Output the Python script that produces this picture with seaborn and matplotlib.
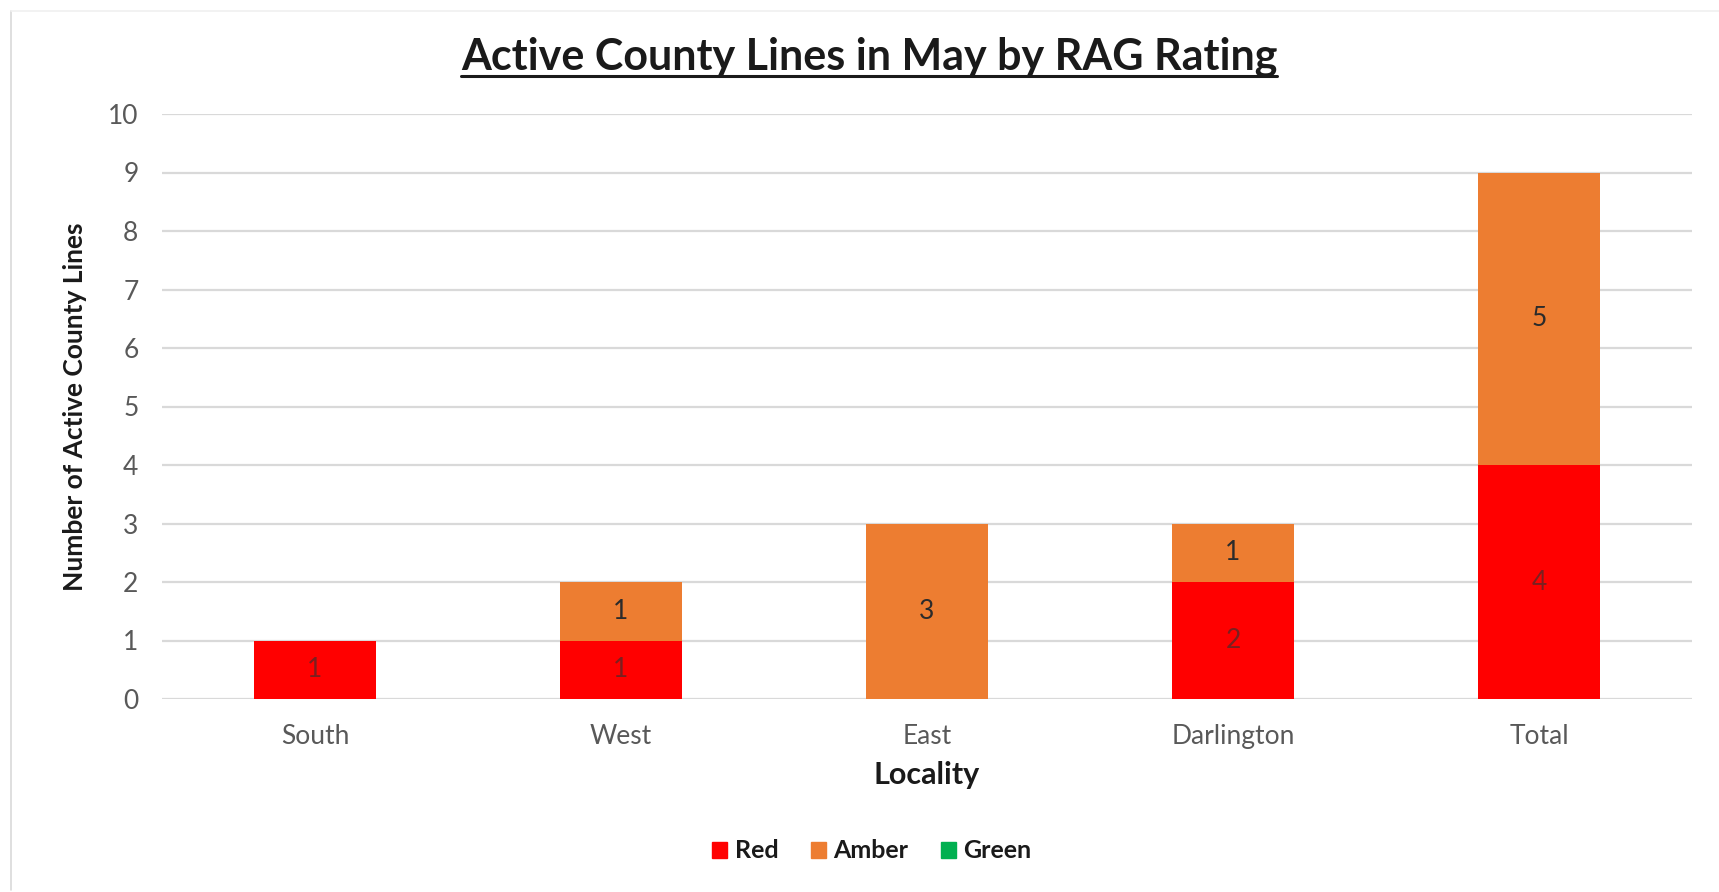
import numpy as np
import pandas as pd
import seaborn as sns
import matplotlib.pyplot as plt
from matplotlib.patches import Patch
from matplotlib.lines import Line2D

localities = ["South", "West", "East", "Darlington", "Total"]
red = [1, 1, 0, 2, 4]
amber = [0, 1, 3, 1, 5]
green = [0, 0, 0, 0, 0]

c_red = "#FF0000"
c_amber = "#ED7D31"
c_green = "#00B050"

df = pd.DataFrame({"Locality": localities, "Red": red, "Amber": amber, "Green": green})
df["RedAmber"] = df["Red"] + df["Amber"]
df["All"] = df["RedAmber"] + df["Green"]

sns.set_theme(style="white")
plt.rcParams["font.family"] = ["Lato", "DejaVu Sans"]

W, H = 1719, 892
fig = plt.figure(figsize=(W / 100, H / 100), dpi=100)
ax = fig.add_axes([162 / W, 1 - 699 / H, (1692 - 162) / W, (699 - 114) / H])

# stacked bars: draw cumulative totals back to front
for col, c in [("All", c_green), ("RedAmber", c_amber), ("Red", c_red)]:
    sns.barplot(data=df, x="Locality", y=col, color=c, width=0.4, saturation=1,
                linewidth=0, edgecolor=c, ax=ax)

# segment labels
for i, (r, a) in enumerate(zip(red, amber)):
    if r:
        ax.text(i, r / 2, str(r), ha="center", va="center", fontsize=19, color="#7a2020")
    if a:
        ax.text(i, r + a / 2, str(a), ha="center", va="center", fontsize=19, color="#2b2b2b")

ax.set_xlim(-0.5, 4.5)
ax.set_ylim(0, 10)
ax.set_yticks(range(0, 11))
ax.yaxis.grid(True, color="#D9D9D9", linewidth=1.6)
ax.set_axisbelow(True)
for s in ax.spines.values():
    s.set_visible(False)
ax.tick_params(axis="both", length=0, labelsize=19, colors="#595959")
ax.tick_params(axis="y", pad=17)
ax.tick_params(axis="x", pad=18)

ax.set_ylabel("Number of Active County Lines", fontsize=19, fontweight="bold", color="#1a1a1a")
ax.yaxis.set_label_coords((75 - 162) / 1530, 0.5)
ax.yaxis.label.set_verticalalignment("center")
ax.set_xlabel("Locality", fontsize=22, fontweight="bold", color="#1a1a1a")
ax.xaxis.set_label_coords(0.5, -(775 - 699) / 585)
ax.xaxis.label.set_verticalalignment("center")

title = fig.text(869 / W, 1 - 57 / H, "Active County Lines in May by RAG Rating",
                 ha="center", va="center", fontsize=31, fontweight="bold", color="#1a1a1a")

handles = [Patch(color=c_red, label="Red"), Patch(color=c_amber, label="Amber"),
           Patch(color=c_green, label="Green")]
fig.legend(handles=handles, loc="center", bbox_to_anchor=(872 / W, 1 - 851 / H), ncol=3,
           frameon=False, prop={"weight": "bold", "size": 18}, handlelength=0.6,
           handleheight=0.6, handletextpad=0.3, columnspacing=1.3, labelcolor="#1a1a1a")

# underline title
fig.canvas.draw()
bb = title.get_window_extent().transformed(fig.transFigure.inverted())
fig.add_artist(Line2D([bb.x0, bb.x1], [1 - 76 / H, 1 - 76 / H], transform=fig.transFigure,
                      color="#1a1a1a", linewidth=2.2))

# chart area border
fig.add_artist(Line2D([11 / W, 11 / W], [1 - 11 / H, 1 - 890 / H], transform=fig.transFigure,
                      color="#D9D9D9", linewidth=1.2))
fig.add_artist(Line2D([11 / W, 1], [1 - 11 / H, 1 - 11 / H], transform=fig.transFigure,
                      color="#F0F0F0", linewidth=1.2))

fig.savefig("out.png", dpi=100)
